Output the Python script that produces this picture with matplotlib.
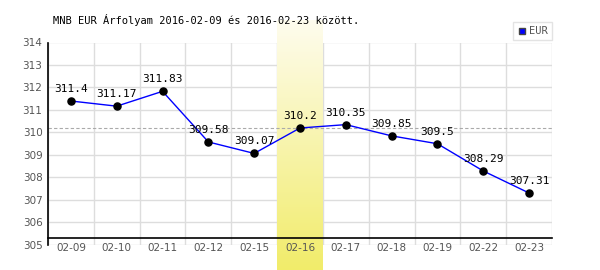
import matplotlib.pyplot as plt
import numpy as np
from matplotlib.lines import Line2D
from matplotlib.colors import LinearSegmentedColormap

# Adatok
dates = ["02-09", "02-10", "02-11", "02-12", "02-15", "02-16",
         "02-17", "02-18", "02-19", "02-22", "02-23"]
rates = [311.4, 311.17, 311.83, 309.58, 309.07, 310.2,
         310.35, 309.85, 309.5, 308.29, 307.31]
ref_rate = 310.2  # szaggatott vonal
highlight = "02-16"
title = "MNB EUR Árfolyam 2016-02-09 és 2016-02-23 között."

W, H = 600, 270
fig = plt.figure(figsize=(W / 100, H / 100), dpi=100)
left, right, top, bottom = 48, 552, 42.5, 245
ax = fig.add_axes([left / W, 1 - bottom / H, (right - left) / W, (bottom - top) / H])
plt.rcParams['font.family'] = ['DejaVu Sans Mono']
fs = 7.5

x = np.arange(len(dates))
ax.set_xlim(-0.5, len(dates) - 0.5)
ax.set_ylim(305, 314)

# Kiemelt nap sárga színátmenettel (a rajzterületen túl is)
hi = dates.index(highlight)
grad = np.linspace(0, 1, 256).reshape(-1, 1)
cmap = LinearSegmentedColormap.from_list("y", ["#f1ec6a", "#fefcee"])
y_top = 305 + (bottom - 20) / (bottom - top) * 9
y_bot = 305 - (H - bottom) / (bottom - top) * 9
ax.imshow(grad, cmap=cmap, aspect="auto", extent=(hi - 0.5, hi + 0.5, y_bot, y_top),
          origin="lower", zorder=1.5, clip_on=False)

# Rácsvonalak
for v in range(305, 315):
    ax.axhline(v, color="#dddddd", lw=1, zorder=1)
for i in range(len(dates) + 1):
    ax.axvline(i - 0.5, color="#dddddd", lw=1, zorder=1)
ax.axhline(ref_rate, color="#aaaaaa", lw=0.8, ls=(0, (3, 2)), zorder=2)

ax.plot(x, rates, color="#0000ff", lw=1, zorder=3)
ax.scatter(x, rates, s=26, color="black", zorder=4)
for xi, r in zip(x, rates):
    ax.annotate(f"{r:g}", (xi, r), xytext=(0, 5), textcoords="offset points",
                ha="center", va="bottom", fontsize=fs + 0.5, zorder=5)

for s in ax.spines.values():
    s.set_visible(False)
ax.plot([0, 0], [0, 1], transform=ax.transAxes, color="black", lw=1.2, clip_on=False, zorder=6)
yb = (bottom - 238) / (bottom - top)
ax.plot([0, 1], [yb, yb], transform=ax.transAxes, color="black", lw=1.2, clip_on=False, zorder=6)

ax.set_xticks(x)
ax.set_xticklabels(dates, fontsize=fs, color="#555555")
ax.set_yticks(range(305, 315))
ax.set_yticklabels([str(v) for v in range(305, 315)], fontsize=fs, color="#555555")
ax.tick_params(length=0, pad=4)
ax.tick_params(axis="x", pad=-1.5)

fig.text(53 / W, 1 - 20 / H, title, fontsize=fs, va="center", ha="left")

leg = ax.legend([Line2D([], [], marker="s", ls="none", color="#0000ff",
                        markeredgecolor="#444444", markersize=5)], ["EUR"],
                loc="lower right", bbox_to_anchor=(1.0, 1.01), fontsize=fs,
                frameon=True, fancybox=False, edgecolor="#dddddd",
                handlelength=0.8, handletextpad=0.3, borderpad=0.4, borderaxespad=0)
for t in leg.get_texts():
    t.set_color("#555555")

fig.savefig("out.png", dpi=100)
